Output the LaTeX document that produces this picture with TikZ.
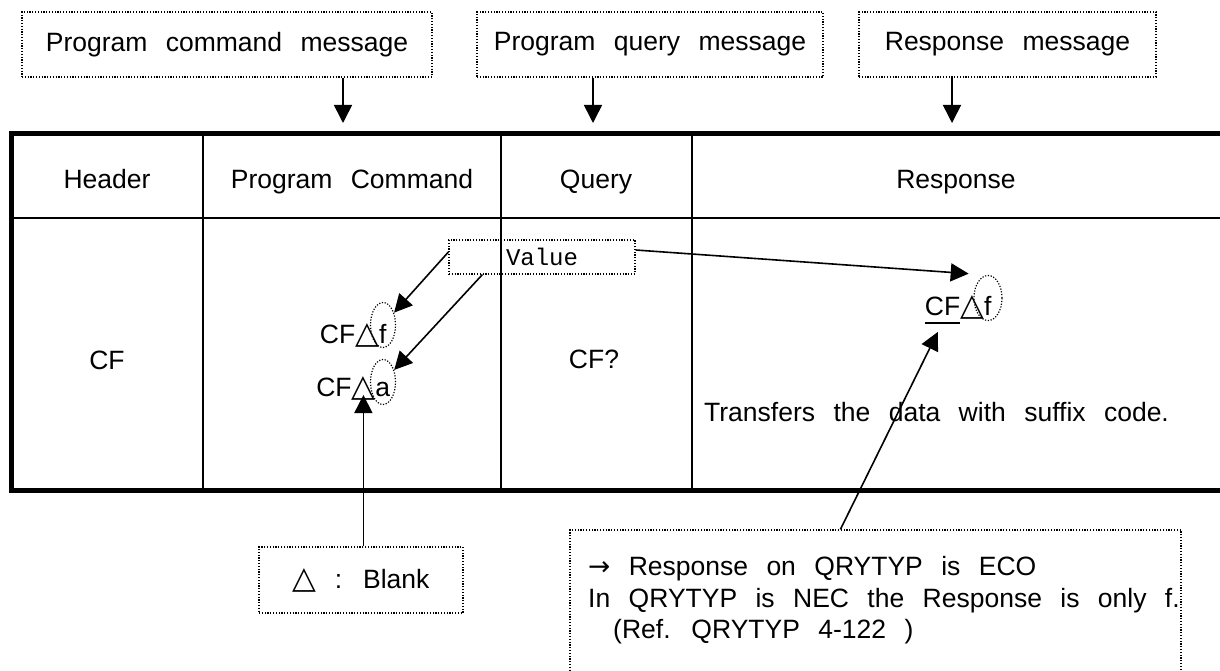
\documentclass[tikz,border=0pt]{standalone}
\usepackage{fontspec}
\setmainfont{Liberation Sans}[WordSpace=2.5]
\newfontfamily\symf{DejaVu Sans}
\newfontfamily\monof{Liberation Mono}
\usetikzlibrary{arrows.meta,shapes.geometric,calc}
\newcommand\blanktri{{\symf\fontsize{31}{32}\selectfont △}}
\begin{document}
\begin{tikzpicture}[x=1pt,y=-1pt,
  every node/.style={inner sep=0pt, font=\fontsize{26.5}{32}\selectfont},
  dotbox/.style={draw, line width=1.2pt, dash pattern=on 1.2pt off 1.6pt, rectangle},
  dotell/.style={draw, line width=1.2pt, dash pattern=on 1.2pt off 1.6pt, ellipse, minimum height=45pt},
  arr/.style={line width=1.6pt, -{Triangle[length=18pt,width=18pt]}},
  outer/.style={line width=5pt},
  inner/.style={line width=2pt}]
\useasboundingbox (0,0) rectangle (1220,671);
% message boxes
\node[dotbox, minimum width=410pt, minimum height=65pt] (m1) at (227,44.5) {Program command message};
\node[dotbox, minimum width=346pt, minimum height=65pt] (m2) at (650,44.5) {Program query message};
\node[dotbox, minimum width=297pt, minimum height=65pt] (m3) at (1007.5,44.5) {Response message};
\coordinate (t1) at (343,123);
\coordinate (t2) at (593,123);
\coordinate (t3) at (952,123);
\draw[arr] (m1.south -| t1) -- (t1);
\draw[arr] (m2.south -| t2) -- (t2);
\draw[arr] (m3.south -| t3) -- (t3);
% table
\draw[outer] (9,133.5) -- (1220,133.5);
\draw[outer] (9,490) -- (1220,490);
\draw[outer] (11.5,131) -- (11.5,492.5);
\draw[inner] (11.5,218) -- (1220,218);
\foreach \cx in {203,501,692} \draw[inner] (\cx,133.5) -- (\cx,490);
% header row
\node[anchor=base] (h1) at (107,189) {Header};
\node[anchor=base] (h2) at (352,189) {Program Command};
\node[anchor=base] (h3) at (596,189) {Query};
\node[anchor=base] (h4) at (956,189) {Response};
% body row
\node[anchor=base] (c1) at (107,369) {CF};
\node[anchor=base] (c3) at (594,368) {CF?};
\node[anchor=base east] (cf) at (386.7,343) {CF\blanktri f};
\node[anchor=base east] (ca) at (390.4,396) {CF\blanktri a};
\node[dotell, minimum width=25pt] (e1) at (383,325) {};
\node[dotell, minimum width=25pt] (e2) at (383,382) {};
\node[anchor=base east] (rcf) at (991.7,315) {CF\blanktri f};
\draw[line width=2pt] ($(rcf.base west)+(0,8)$) -- ++(35,0);
\node[dotell, minimum width=28pt] (e3) at (988,298) {};
\node[anchor=base west] (tr) at (704,421.5) {Transfers the data with suffix code.};
% value box
\node[dotbox, minimum width=186pt, minimum height=34pt] (val) at (542,257) {};
\node[anchor=base, font=\monof\fontsize{24}{28}\selectfont] (vt) at (542,265) {Value};
\draw[arr] ($(val.west)+(0,-5)$) -- (e1);
\draw[arr] ($(val.south west)+(34,0)$) -- (e2);
\coordinate (rtip) at ($(e3.north west)+(-9,-8)$);
\draw[arr] ($(val.east)+(0,-7)$) -- (rtip);
% blank box
\node[dotbox, minimum width=204pt, minimum height=66pt] (blank) at (361,580) {\blanktri\ : Blank};
\coordinate (tri) at ($(ca.base east)+(-27,-1)$);
\draw[arr] (blank.north -| tri) -- (tri);
% note box
\node[dotbox, minimum width=611pt, minimum height=170pt] (note) at (875.5,615) {};
\node[anchor=base west] (n1) at (588,575) {{\symf →} Response on QRYTYP is ECO};
\node[anchor=base west] (n2) at (588,607) {In QRYTYP is NEC the Response is only f.};
\node[anchor=base west] (n3) at (613,638) {(Ref. QRYTYP 4-122 )};
\coordinate (rt) at ($(rcf.base west)+(13,17)$);
\draw[arr] ($(note.north west)+(271,0)$) -- (rt);
\end{tikzpicture}
\end{document}
